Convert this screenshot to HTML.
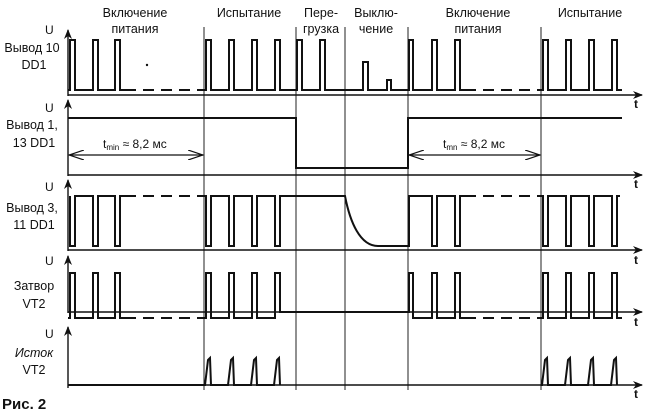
<!DOCTYPE html>
<html><head><meta charset="utf-8"><style>
html,body{margin:0;padding:0;background:#fff;}
svg{display:block;font-family:"Liberation Sans",Arial,sans-serif;}
.t{font-size:12px;fill:#111;}
.lab{font-size:12.5px;fill:#111;text-anchor:middle;}
</style></head><body>
<svg width="656" height="413" viewBox="0 0 656 413" xmlns="http://www.w3.org/2000/svg">
<defs>
<marker id="ah" markerWidth="10" markerHeight="8" refX="9" refY="4" orient="auto" markerUnits="userSpaceOnUse">
<path d="M0,0 L10,4 L0,8 L3,4 Z" fill="#111"/></marker>
<marker id="da" markerWidth="16" markerHeight="10" refX="15" refY="5" orient="auto-start-reverse" markerUnits="userSpaceOnUse">
<path d="M0,0 L15,5 L0,10" fill="none" stroke="#111" stroke-width="1.2"/></marker>
</defs>
<!-- vertical dividers -->
<g stroke="#222" stroke-width="1">
<line x1="204" y1="27" x2="204" y2="390"/>
<line x1="296" y1="27" x2="296" y2="390"/>
<line x1="345" y1="27" x2="345" y2="390"/>
<line x1="408" y1="27" x2="408" y2="390"/>
<line x1="541" y1="27" x2="541" y2="390"/>
</g>
<!-- axes -->
<g stroke="#111" stroke-width="1.4" fill="none">
<line x1="68" y1="96" x2="68" y2="30" marker-end="url(#ah)"/>
<line x1="68" y1="95" x2="642" y2="95" marker-end="url(#ah)"/>
<line x1="68" y1="176" x2="68" y2="100" marker-end="url(#ah)"/>
<line x1="68" y1="175" x2="642" y2="175" marker-end="url(#ah)"/>
<line x1="68" y1="251" x2="68" y2="180" marker-end="url(#ah)"/>
<line x1="68" y1="250" x2="642" y2="250" marker-end="url(#ah)"/>
<line x1="68" y1="313" x2="68" y2="256" marker-end="url(#ah)"/>
<line x1="68" y1="312" x2="642" y2="312" marker-end="url(#ah)"/>
<line x1="68" y1="388" x2="68" y2="327" marker-end="url(#ah)"/>
<line x1="68" y1="385" x2="642" y2="385" marker-end="url(#ah)"/>
</g>
<g stroke="#111" stroke-width="2" fill="none" stroke-linejoin="miter">
<!-- row 1 -->
<path d="M68,90 H70 V40 H75 V90 H93 V40 H98 V90 H115 V40 H120 V90 H125"/>
<path d="M125,90 H204" stroke-dasharray="11,7"/>
<path d="M204,90 H206 V40 H211 V90 H229 V40 H234 V90 H252 V40 H257 V90 H275 V40 H280 V90 H297 V40 H302 V90 H320 V40 H325 V90 H363 V62 H368 V90 H387 V80 H391 V90 H409 V40 H413 V90 H432 V40 H437 V90 H455 V40 H460 V90 H465"/>
<path d="M465,90 H541" stroke-dasharray="11,7"/>
<path d="M541,90 H543 V40 H548 V90 H566 V40 H571 V90 H589 V40 H594 V90 H612 V40 H617 V90 H622"/>
<!-- row 2 -->
<path d="M68,118 H296 V168 H408 V118 H622"/>
<!-- row 3 -->
<path d="M70,196 V246 H75 V196 H93 V246 H98 V196 H115 V246 H120 V196 H125"/>
<path d="M125,196 H204" stroke-dasharray="11,7"/>
<path d="M204,196 H206 V246 H211 V196 H229 V246 H234 V196 H252 V246 H257 V196 H275 V246 H280 V196 H345 C350,222 360,246 378,246 H409 V196 H432 V246 H437 V196 H455 V246 H460 V196 H465"/>
<path d="M465,196 H541" stroke-dasharray="11,7"/>
<path d="M541,196 H543 V246 H548 V196 H566 V246 H571 V196 H589 V246 H594 V196 H612 V246 H617 V196 H620"/>
<!-- row 4 -->
<path d="M68,318 H70 V273 H75 V318 H93 V273 H98 V318 H115 V273 H120 V318 H125"/>
<path d="M125,318 H204" stroke-dasharray="11,7"/>
<path d="M204,318 H206 V273 H211 V318 H229 V273 H234 V318 H252 V273 H257 V318 H275 V273 H280 V312 H409 V273 H413 V318 H432 V273 H437 V318 H455 V273 H460 V318 H465"/>
<path d="M465,318 H541" stroke-dasharray="11,7"/>
<path d="M541,318 H543 V273 H548 V318 H566 V273 H571 V318 H589 V273 H594 V318 H612 V273 H617 V318 H622"/>
<!-- row 5 -->
<path d="M68,385 H205 L208,360 L210,358 L211,385 H228 L231,360 L233,358 L234,385 H251 L254,360 L256,358 L257,385 H274 L277,360 L279,358 L280,385"/>
<path d="M541,385 H542 L545,360 L547,358 L548,385 H565 L568,360 L570,358 L571,385 H588 L591,360 L593,358 L594,385 H611 L614,360 L616,358 L617,385"/>
</g>
<!-- t_min arrows -->
<g stroke="#111" stroke-width="1.2">
<line x1="69" y1="155" x2="203" y2="155" marker-start="url(#da)" marker-end="url(#da)"/>
<line x1="409" y1="155" x2="540" y2="155" marker-start="url(#da)" marker-end="url(#da)"/>
</g>
<text x="103" y="148" class="t">t<tspan font-size="8" dy="2">min</tspan><tspan dy="-2"> ≈ 8,2 мс</tspan></text>
<text x="443" y="148" class="t">t<tspan font-size="8" dy="2">mn</tspan><tspan dy="-2"> ≈ 8,2 мс</tspan></text>
<!-- U and t labels -->
<g class="t" font-size="13">
<text x="45" y="34">U</text><text x="45" y="112">U</text><text x="45" y="191">U</text><text x="45" y="265">U</text><text x="45" y="338">U</text>
<text x="634" y="108" font-weight="bold">t</text><text x="634" y="188" font-weight="bold">t</text><text x="634" y="264" font-weight="bold">t</text><text x="634" y="326" font-weight="bold">t</text><text x="634" y="398" font-weight="bold">t</text>
</g>
<!-- left labels -->
<g class="lab">
<text x="32" y="52">Вывод 10</text><text x="34" y="69">DD1</text>
<text x="32" y="129">Вывод 1,</text><text x="34" y="147">13 DD1</text>
<text x="32" y="212">Вывод 3,</text><text x="34" y="229">11 DD1</text>
<text x="34" y="290">Затвор</text><text x="34" y="308">VT2</text>
<text x="34" y="357" font-style="italic">Исток</text><text x="34" y="374">VT2</text>
</g>
<text x="2" y="409" font-size="15" font-weight="bold" fill="#111">Рис. 2</text>
<!-- headers -->
<g class="lab">
<text x="135" y="17">Включение</text><text x="135" y="33">питания</text>
<text x="249" y="17">Испытание</text>
<text x="321" y="17">Пере-</text><text x="321" y="33">грузка</text>
<text x="376" y="17">Выклю-</text><text x="376" y="33">чение</text>
<text x="478" y="17">Включение</text><text x="478" y="33">питания</text>
<text x="590" y="17">Испытание</text>
</g>
<circle cx="147" cy="65" r="1.2" fill="#111"/>
</svg>
</body></html>
